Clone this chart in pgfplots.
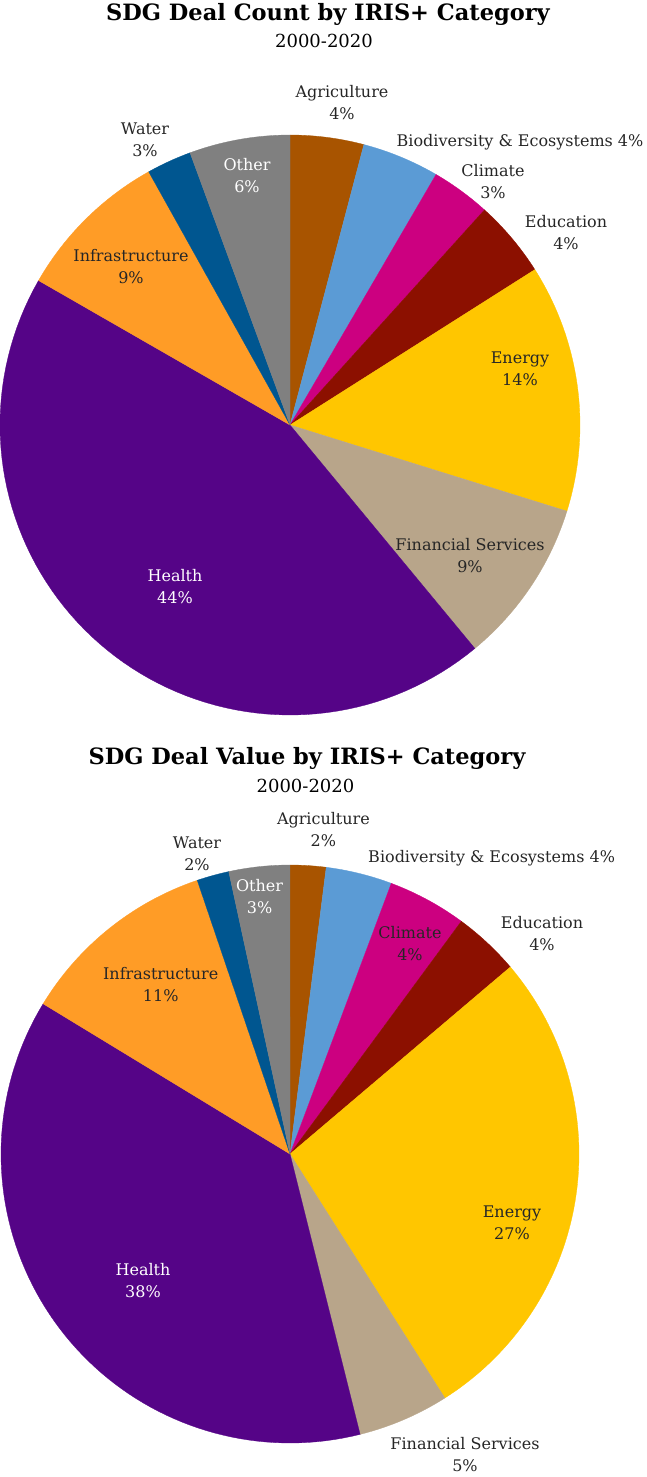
\documentclass[border=0pt]{standalone}
\usepackage{pgfplots}
\pgfplotsset{compat=1.18}
\usepackage{pgfplotstable}
\usepackage{fontspec}
\setmainfont{DejaVu Serif}

\definecolor{cAgri}{HTML}{A85400}
\definecolor{cBio}{HTML}{5B9BD5}
\definecolor{cClim}{HTML}{CC0080}
\definecolor{cEdu}{HTML}{8C1000}
\definecolor{cEnergy}{HTML}{FFC600}
\definecolor{cFin}{HTML}{B8A58A}
\definecolor{cHealth}{HTML}{550487}
\definecolor{cInfra}{HTML}{FF9C26}
\definecolor{cWater}{HTML}{005690}
\definecolor{cOther}{HTML}{808080}
\definecolor{lblc}{HTML}{262626}

% share (%) of each IRIS+ category, clockwise from 12 o'clock
\pgfplotstableread{
value color
4.1  cAgri
4.3  cBio
3.3  cClim
4.3  cEdu
13.8 cEnergy
9.2  cFin
44.3 cHealth
8.6  cInfra
2.5  cWater
5.6  cOther
}\countdata

\pgfplotstableread{
value color
2.0  cAgri
3.7  cBio
4.4  cClim
3.7  cEdu
27.2 cEnergy
5.1  cFin
37.6 cHealth
11.1 cInfra
1.8  cWater
3.4  cOther
}\valuedata

% #1 table, #2 cx, #3 cy, #4 radius (picture pixels)
\newcommand{\drawpie}[4]{%
  \pgfplotstablegetrowsof{#1}%
  \pgfmathtruncatemacro{\nrows}{\pgfplotsretval-1}%
  \def\cum{0}%
  \pgfplotsforeachungrouped \i in {0,...,\nrows}{%
    \pgfplotstablegetelem{\i}{value}\of{#1}\let\val\pgfplotsretval
    \pgfplotstablegetelem{\i}{color}\of{#1}\let\col\pgfplotsretval
    \pgfmathsetmacro{\aa}{\cum*3.6}%
    \pgfmathsetmacro{\bb}{(\cum+\val)*3.6}%
    \pgfmathsetmacro{\cum}{\cum+\val}%
    \edef\doplot{\noexpand\addplot[fill=\col, draw=\col, line width=0.3pt, domain=\aa:\bb, samples=80, variable=\noexpand\t]
      ({#2+#4*sin(\noexpand\t)},{#3-#4*cos(\noexpand\t)}) -- (#2,#3) -- cycle;}%
    \doplot
  }%
}

\newcommand{\lbl}{\fontsize{16}{22}\selectfont\color{lblc}}
\newcommand{\ttl}{\fontsize{22.5}{26}\selectfont\bfseries}
\newcommand{\sub}{\fontsize{18}{20}\selectfont}

\begin{document}
\begin{tikzpicture}
\begin{axis}[
  at={(0,0)}, anchor=south west,
  width=646pt, height=1477pt, scale only axis,
  xmin=0, xmax=646, ymin=0, ymax=1477, y dir=reverse,
  hide axis, clip=false,
]
\drawpie{\countdata}{290}{425}{290}
\drawpie{\valuedata}{290}{1154}{289}

% chart 1
\node[font=\ttl] at (328,14) {SDG Deal Count by IRIS+ Category};
\node[font=\sub] at (324,41) {2000-2020};
\node[font=\lbl, align=center] at (342,102.5) {Agriculture\\4\%};
\node[font=\lbl] at (520,142) {Biodiversity \& Ecosystems 4\%};
\node[font=\lbl, align=center] at (493,182) {Climate\\3\%};
\node[font=\lbl, align=center] at (566,233) {Education\\4\%};
\node[font=\lbl, align=center] at (520,369) {Energy\\14\%};
\node[font=\lbl, align=center] at (470,556) {Financial Services\\9\%};
\node[font=\lbl, align=center, text=white] at (175,587) {Health\\44\%};
\node[font=\lbl, align=center] at (131,266.5) {Infrastructure\\9\%};
\node[font=\lbl, align=center] at (145,140) {Water\\3\%};
\node[font=\lbl, align=center, text=white] at (247,175.5) {Other\\6\%};

% chart 2
\node[font=\ttl] at (307,758) {SDG Deal Value by IRIS+ Category};
\node[font=\sub] at (305.5,786) {2000-2020};
\node[font=\lbl, align=center] at (323.4,830) {Agriculture\\2\%};
\node[font=\lbl] at (491.6,858) {Biodiversity \& Ecosystems 4\%};
\node[font=\lbl, align=center] at (410,944) {Climate\\4\%};
\node[font=\lbl, align=center] at (542,933.5) {Education\\4\%};
\node[font=\lbl, align=center] at (512,1223) {Energy\\27\%};
\node[font=\lbl, align=center] at (465,1454.5) {Financial Services\\5\%};
\node[font=\lbl, align=center, text=white] at (143,1281) {Health\\38\%};
\node[font=\lbl, align=center] at (160.7,985) {Infrastructure\\11\%};
\node[font=\lbl, align=center] at (197,853.5) {Water\\2\%};
\node[font=\lbl, align=center, text=white] at (259.6,897) {Other\\3\%};
\end{axis}
\pgfresetboundingbox
\useasboundingbox (current axis.south west) rectangle (current axis.north east);
\end{tikzpicture}
\end{document}
